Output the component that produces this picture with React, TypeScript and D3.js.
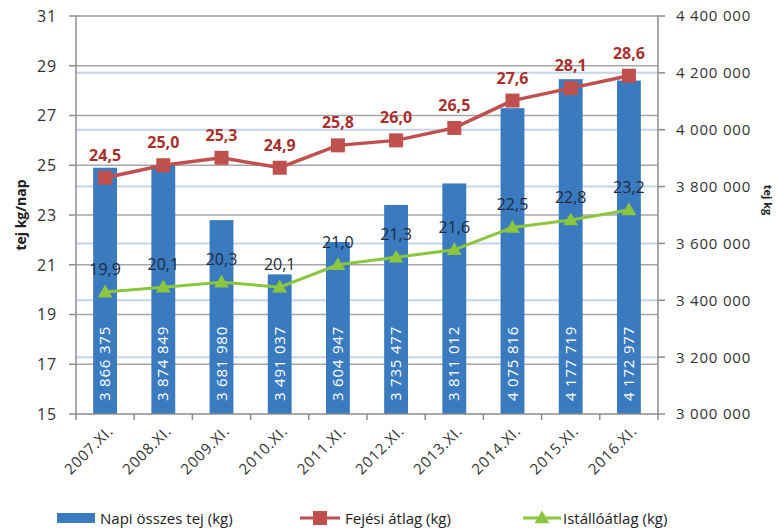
import React from "react";
import * as d3 from "d3";

const categories = ["2007.XI.", "2008.XI.", "2009.XI.", "2010.XI.", "2011.XI.", "2012.XI.", "2013.XI.", "2014.XI.", "2015.XI.", "2016.XI."];
const napiOsszesTej = [3866375, 3874849, 3681980, 3491037, 3604947, 3735477, 3811012, 4075816, 4177719, 4172977];
const fejesiAtlag = [24.5, 25.0, 25.3, 24.9, 25.8, 26.0, 26.5, 27.6, 28.1, 28.6];
const istalloAtlag = [19.9, 20.1, 20.3, 20.1, 21.0, 21.3, 21.6, 22.5, 22.8, 23.2];
const leftTicks = [15, 17, 19, 21, 23, 25, 27, 29, 31];
const rightTicks = [3000000, 3200000, 3400000, 3600000, 3800000, 4000000, 4200000, 4400000];
const legendLabels = ["Napi összes tej (kg)", "Fejési átlag (kg)", "Istállóátlag  (kg)"];

const W = 776, H = 531;
const M = { left: 76, right: 658, top: 16, bottom: 414 };
const FONT = "'Open Sans', sans-serif";
const BAR = "#3A7BC0";
const RED = "#C0504D";
const GREEN = "#8CC63F";

const fmtSpace = (v: number) => d3.format(",")(v).replace(/,/g, " ");
const fmtComma = (v: number) => d3.format(".1f")(v).replace(".", ",");

export default function App() {
  const x = d3.scaleBand<string>().domain(categories).range([M.left, M.right]).paddingInner(0.59).paddingOuter(0.295);
  const band = d3.scaleBand<string>().domain(categories).range([M.left, M.right]);
  const yL = d3.scaleLinear().domain([15, 31]).range([M.bottom, M.top]);
  const yR = d3.scaleLinear().domain([3000000, 4400000]).range([M.bottom, M.top]);
  const cx = (c: string) => (x(c) as number) + x.bandwidth() / 2;

  const redLine = d3.line<number>().x((_, i) => cx(categories[i])).y((d) => yL(d));
  const greenLine = d3.line<number>().x((_, i) => cx(categories[i])).y((d) => yL(d));
  const tri = d3.symbol().type(d3.symbolTriangle).size(95)();

  return (
    <svg width={W} height={H} style={{ position: "absolute", left: 0, top: 0, background: "#fff" }} fontFamily={FONT}>
      {rightTicks.slice(1).map((t) => (
        <line key={"rg" + t} x1={M.left} x2={M.right} y1={yR(t)} y2={yR(t)} stroke="#C4D6EC" strokeWidth={2} />
      ))}
      {leftTicks.slice(1).map((t) => (
        <line key={"lg" + t} x1={M.left} x2={M.right} y1={yL(t)} y2={yL(t)} stroke="#A6A6A6" strokeWidth={1.5} />
      ))}
      {categories.map((c, i) => (
        <rect key={"b" + c} x={x(c)} y={yR(napiOsszesTej[i])} width={x.bandwidth()} height={M.bottom - yR(napiOsszesTej[i])} fill={BAR} />
      ))}
      <line x1={M.left} x2={M.left} y1={M.top} y2={M.bottom} stroke="#8C8C8C" strokeWidth={1.5} />
      <line x1={M.right} x2={M.right} y1={M.top} y2={M.bottom} stroke="#8C8C8C" strokeWidth={1.5} />
      <line x1={M.left} x2={M.right} y1={M.bottom} y2={M.bottom} stroke="#8C8C8C" strokeWidth={1.5} />
      {leftTicks.map((t) => (
        <g key={"lt" + t}>
          <line x1={M.left - 7} x2={M.left} y1={yL(t)} y2={yL(t)} stroke="#8C8C8C" strokeWidth={1.5} />
          <text x={57} y={yL(t)} dy="0.36em" textAnchor="end" fontSize={16} letterSpacing={0.8} fill="#333">{t}</text>
        </g>
      ))}
      {rightTicks.map((t) => (
        <g key={"rt" + t}>
          <line x1={M.right} x2={M.right + 7} y1={yR(t)} y2={yR(t)} stroke="#8C8C8C" strokeWidth={1.5} />
          <text x={676} y={yR(t)} dy="0.36em" textAnchor="start" fontSize={15} letterSpacing={0.8} fill="#333">{fmtSpace(t)}</text>
        </g>
      ))}
      {categories.map((c) => (
        <line key={"xt" + c} x1={(band(c) as number) + band.bandwidth()} x2={(band(c) as number) + band.bandwidth()} y1={M.bottom} y2={M.bottom + 6} stroke="#8C8C8C" strokeWidth={1.5} />
      ))}
      <line x1={M.left} x2={M.left} y1={M.bottom} y2={M.bottom + 6} stroke="#8C8C8C" strokeWidth={1.5} />
      {categories.map((c, i) => (
        <text key={"bl" + c} transform={`translate(${cx(c) + 5},${M.bottom - 13}) rotate(-90)`} textAnchor="start" fontSize={15} letterSpacing={0.8} fill="#fff">{fmtSpace(napiOsszesTej[i])}</text>
      ))}
      {categories.map((c) => (
        <text key={"xl" + c} transform={`translate(${cx(c) + 9},${432}) rotate(-45)`} textAnchor="end" fontSize={15} letterSpacing={0.8} fill="#333">{c}</text>
      ))}
      <path d={greenLine(istalloAtlag) as string} fill="none" stroke={GREEN} strokeWidth={3} />
      <path d={redLine(fejesiAtlag) as string} fill="none" stroke={RED} strokeWidth={3.5} />
      {istalloAtlag.map((v, i) => (
        <path key={"gm" + i} d={tri as string} transform={`translate(${cx(categories[i])},${yL(v) + 1})`} fill={GREEN} />
      ))}
      {fejesiAtlag.map((v, i) => (
        <rect key={"rm" + i} x={cx(categories[i]) - 7} y={yL(v) - 7} width={14} height={14} fill={RED} />
      ))}
      {fejesiAtlag.map((v, i) => (
        <text key={"rl" + i} x={cx(categories[i])} y={yL(v) - 17} textAnchor="middle" fontSize={16} fontWeight="bold" fill="#A8302C">{fmtComma(v)}</text>
      ))}
      {istalloAtlag.map((v, i) => (
        <text key={"gl" + i} x={cx(categories[i])} y={yL(v) - 17} textAnchor="middle" fontSize={16} fill="#1F2A3C">{fmtComma(v)}</text>
      ))}
      <text transform={`translate(26,${215}) rotate(-90)`} textAnchor="middle" fontSize={14} fontWeight="bold" fill="#222">tej kg/nap</text>
      <text transform={`translate(764,${200}) rotate(90)`} textAnchor="middle" fontSize={11} fontWeight="bold" fill="#222">tej kg</text>
      <rect x={57} y={513} width={38} height={10} fill={BAR} />
      <text x={100} y={524} fontSize={15} fill="#222">{legendLabels[0]}</text>
      <line x1={300} x2={340} y1={518} y2={518} stroke={RED} strokeWidth={3} />
      <rect x={313} y={511} width={14} height={14} fill={RED} />
      <text x={345} y={524} fontSize={15} fill="#222">{legendLabels[1]}</text>
      <line x1={523} x2={561} y1={518} y2={518} stroke={GREEN} strokeWidth={3} />
      <path d={tri as string} transform="translate(542,519)" fill={GREEN} />
      <text x={563} y={524} fontSize={15} fill="#222">{legendLabels[2]}</text>
    </svg>
  );
}
